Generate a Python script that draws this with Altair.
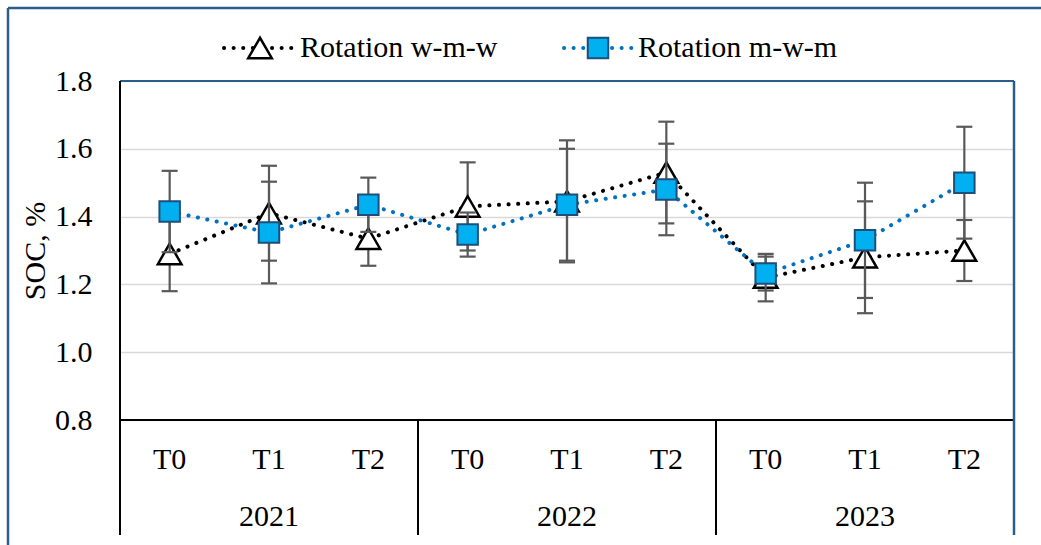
import altair as alt
import pandas as pd

# ---- data ----
periods = ["T0", "T1", "T2", "T0", "T1", "T2", "T0", "T1", "T2"]
years = ["2021", "2022", "2023"]
series_names = ["Rotation w-m-w", "Rotation m-w-m"]
ww_mean = [1.29, 1.41, 1.335, 1.43, 1.445, 1.53, 1.22, 1.28, 1.30]
ww_err = [0.11, 0.14, 0.08, 0.13, 0.18, 0.15, 0.07, 0.165, 0.09]
mw_mean = [1.415, 1.353, 1.435, 1.347, 1.435, 1.48, 1.232, 1.33, 1.50]
mw_err = [0.12, 0.15, 0.08, 0.065, 0.165, 0.135, 0.05, 0.17, 0.165]
y_ticks = [0.8, 1.0, 1.2, 1.4, 1.6, 1.8]

W, H = 894, 339
FONT = "Liberation Serif"
FS = 30

rows = []
for name, means, errs in [(series_names[0], ww_mean, ww_err), (series_names[1], mw_mean, mw_err)]:
    for i, (m, e) in enumerate(zip(means, errs)):
        rows.append({"series": name, "x": i + 0.5, "val": m, "lo": m - e, "hi": m + e,
                     "period": periods[i]})
df = pd.DataFrame(rows)
df_ww = df[df.series == series_names[0]]
df_mw = df[df.series == series_names[1]]

xs = alt.Scale(domain=[0, 9], nice=False, zero=False)
ys = alt.Scale(domain=[0.8, 1.8], nice=False, zero=False)
yaxis = alt.Axis(values=y_ticks, format=".1f", grid=True, gridColor="#D9D9D9", gridWidth=1.5,
                 domain=False, ticks=False, labelFont=FONT, labelFontSize=FS, labelColor="black",
                 labelPadding=28, title="SOC, %", titleFont=FONT, titleFontSize=FS,
                 titleFontWeight="normal", titleColor="black", titleAngle=270,
                 titleX=-85, titleY=H / 2, titleAlign="center", titleBaseline="middle")

X = alt.X("x:Q", scale=xs, axis=None)


def Y(field):
    return alt.Y(f"{field}:Q", scale=ys, axis=yaxis)


DOT = [0.1, 9.5]
ERRC = "#595959"
BLUE = "#0070C0"
SQ_FILL = "#00B0F0"
SQ_STROKE = "#1F4E79"
FRAME = "#2E5C8A"


def series_layers(d, color, marker):
    line = alt.Chart(d).mark_line(strokeDash=DOT, strokeCap="round", strokeWidth=4,
                                  color=color).encode(x=X, y=Y("val"))
    err = alt.Chart(d).mark_rule(color=ERRC, strokeWidth=2.2).encode(x=X, y=Y("lo"), y2="hi:Q")
    cap_lo = alt.Chart(d).mark_point(shape="M-1,0L1,0", size=256, filled=False, color=ERRC,
                                     strokeWidth=2.2, opacity=1).encode(x=X, y=Y("lo"))
    cap_hi = alt.Chart(d).mark_point(shape="M-1,0L1,0", size=256, filled=False, color=ERRC,
                                     strokeWidth=2.2, opacity=1).encode(x=X, y=Y("hi"))
    return [line, err, cap_lo, cap_hi, marker(alt.Chart(d)).encode(x=X, y=Y("val"))]


def tri(c):
    return c.mark_point(shape="triangle-up", size=560, filled=True, fill="white", stroke="black",
                        strokeWidth=2.5, opacity=1)


def sq(c):
    return c.mark_point(shape="square", size=420, filled=True, fill=SQ_FILL, stroke=SQ_STROKE,
                        strokeWidth=2, opacity=1)


one = pd.DataFrame({"a": [0]})

# frame and category axis decorations
bottom_axis = alt.Chart(one).mark_rule(color="black", strokeWidth=2).encode(
    x=alt.value(0), x2=alt.value(W), y=alt.value(H))
plot_top = alt.Chart(one).mark_rule(color=FRAME, strokeWidth=2).encode(
    x=alt.value(0), x2=alt.value(W), y=alt.value(0))
left_line = alt.Chart(one).mark_rule(color="black", strokeWidth=2).encode(
    x=alt.value(0), y=alt.value(0), y2=alt.value(454))
right_line = alt.Chart(one).mark_rule(color=FRAME, strokeWidth=2.5).encode(
    x=alt.value(W), y=alt.value(0), y2=alt.value(454))
sep_df = pd.DataFrame({"x": [3, 6]})
seps = alt.Chart(sep_df).mark_rule(color="black", strokeWidth=2).encode(
    x=X, y=alt.value(H), y2=alt.value(454))
outer_top = alt.Chart(one).mark_rule(color=FRAME, strokeWidth=2.5).encode(
    x=alt.value(-112), x2=alt.value(921), y=alt.value(-73))
outer_left = alt.Chart(one).mark_rule(color=FRAME, strokeWidth=2.5).encode(
    x=alt.value(-112), y=alt.value(-73), y2=alt.value(464))

period_df = pd.DataFrame({"x": [i + 0.5 for i in range(9)], "label": periods})
period_text = alt.Chart(period_df).mark_text(font=FONT, fontSize=FS, color="black",
                                              baseline="middle", align="center").encode(
    x=X, y=alt.value(379), text="label:N")
year_df = pd.DataFrame({"x": [1.5, 4.5, 7.5], "label": years})
year_text = alt.Chart(year_df).mark_text(font=FONT, fontSize=FS, color="black",
                                          baseline="middle", align="center").encode(
    x=X, y=alt.value(436), text="label:N")

# legend
LY = -33
leg = [
    alt.Chart(one).mark_rule(strokeDash=DOT, strokeCap="round", strokeWidth=4, color="black").encode(
        x=alt.value(104), x2=alt.value(176), y=alt.value(LY)),
    tri(alt.Chart(one)).encode(x=alt.value(140), y=alt.value(LY)),
    alt.Chart(pd.DataFrame({"t": [series_names[0]]})).mark_text(
        font=FONT, fontSize=FS, color="black", align="left", baseline="middle").encode(
        x=alt.value(180), y=alt.value(LY), text="t:N"),
    alt.Chart(one).mark_rule(strokeDash=DOT, strokeCap="round", strokeWidth=4, color=BLUE).encode(
        x=alt.value(444), x2=alt.value(514), y=alt.value(LY)),
    sq(alt.Chart(one)).encode(x=alt.value(478), y=alt.value(LY)),
    alt.Chart(pd.DataFrame({"t": [series_names[1]]})).mark_text(
        font=FONT, fontSize=FS, color="black", align="left", baseline="middle").encode(
        x=alt.value(518), y=alt.value(LY), text="t:N"),
]

layers = (series_layers(df_ww, "black", tri) + series_layers(df_mw, BLUE, sq)
          + [bottom_axis, plot_top, left_line, right_line, seps, outer_top, outer_left,
             period_text, year_text] + leg)

chart = alt.layer(*layers).properties(
    width=W, height=H,
    autosize=alt.AutoSizeParams(type="none"),
    padding={"left": 120, "top": 81, "right": 27, "bottom": 125},
    background="white",
).configure_view(stroke=None)

chart.save("out.html", embed_options={"renderer": "svg", "actions": False})
